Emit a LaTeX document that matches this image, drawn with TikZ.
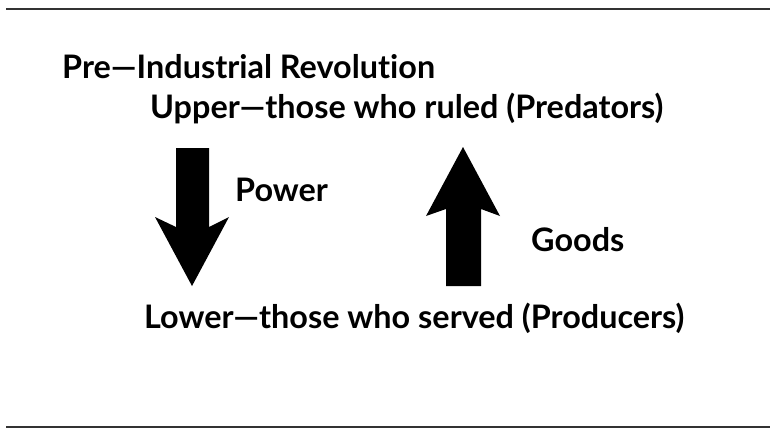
\documentclass[tikz,border=0pt]{standalone}
\usepackage{fontspec}
\setmainfont{Lato}[Ligatures={NoCommon,NoContextual}]
\tikzset{
  lbl/.style={font=\fontsize{32.5}{38}\selectfont\bfseries,inner sep=0pt,anchor=base west},
  rule/.style={line width=2bp,draw=black!80}
}
\begin{document}
\begin{tikzpicture}[x=1bp,y=-1bp]
\useasboundingbox (0,0) rectangle (770,428);
\draw[rule] (6,8.5)--(770,8.5);
\draw[rule] (6,427)--(770,427);
\node[lbl] (era) at (62,78) {Pre---Industrial Revolution};
\node[lbl] (upper) at (150,118) {Upper---those who ruled (Predators)};
\node[lbl] (lower) at (144,328) {Lower---those who served (Producers)};
\node[lbl] (power) at (235,201) {Power};
\node[lbl] (goods) at (531,251) {Goods};
% power goes down
\fill (176,148)--(209,148)--(209,227)--(229,217)--(192,286)--(155,217)--(176,227)--cycle;
% goods go up
\fill (446,286)--(481,286)--(481,209)--(500,216)--(463,147)--(426,216)--(446,209)--cycle;
\end{tikzpicture}
\end{document}
